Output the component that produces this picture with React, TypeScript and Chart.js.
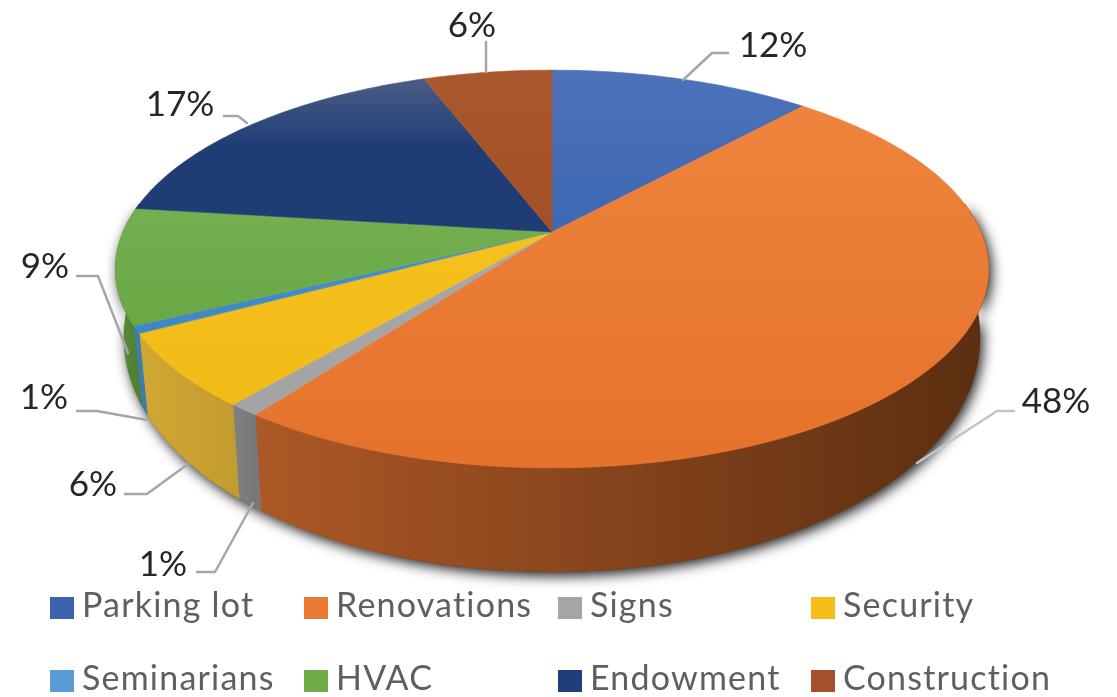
import React, { useEffect, useRef } from "react";
import { Chart, registerables } from "chart.js";

Chart.register(...registerables);

const categories = ["Parking lot", "Renovations", "Signs", "Security", "Seminarians", "HVAC", "Endowment", "Construction"];
const shares = [11.6, 48.4, 1, 6, 0.6, 9.4, 17.3, 5.7];
const topStart = ["#4d72b9", "#ee843d", "#a8a8a8", "#f6c11c", "#4a90cc", "#74af50", "#4a5d85", "#a9582e"];
const topEnd = ["#3c68b2", "#e5722b", "#a3a3a3", "#f1bb18", "#3f86c6", "#69a845", "#1f3c75", "#a44f25"];
const sideStart = ["#2f5597", "#ad5826", "#808080", "#d2a833", "#3a7db4", "#5b8f3a", "#1f3864", "#843c0c"];
const sideEnd = ["#2f5597", "#5b2e10", "#787878", "#c39c2f", "#3a7db4", "#4f8036", "#1f3864", "#843c0c"];
const legendSwatch = ["#3b62ab", "#ea7a33", "#a5a5a5", "#f3bd1c", "#5b9bd5", "#70ad47", "#1f3e7c", "#a5502a"];

// Layout of labels, leaders and legend, kept apart from the data.
const labelCentre = [[773, 46], [1056, 402], [163, 565], [93, 485], [44, 398], [45, 267], [180, 105], [472, 26]];
const leaders = [
  [[683, 80], [712, 53], [728, 53]],
  [[917, 463], [997, 411], [1014, 411]],
  [[253, 503], [215, 572], [197, 572]],
  [[188, 464], [147, 494], [125, 494]],
  [[147, 420], [97, 411], [77, 411]],
  [[128, 353], [98, 276], [77, 276]],
  [[247, 123], [238, 116], [224, 116]],
  [[486, 72], [486, 42]],
];
const legendX = [50, 304, 558, 811];
const legendY = [597, 670];

const CX = 552, CY = 232, A = 429, B = 192, K = 0.186;
const project = (t: number) => {
  const u = Math.cos(t), v = Math.sin(t), w = 1 - K * v;
  return { x: CX + (A * u) / w, y: CY + (B * v) / w, v };
};
const lower = (t: number) => {
  const p = project(t);
  return { x: CX + (p.x - CX) * 0.98, y: p.y + 60 + 44 * p.v };
};
const samples = (a: number, b: number) => {
  const n = Math.max(2, Math.ceil((b - a) / 0.02));
  return Array.from({ length: n + 1 }, (_, i) => a + ((b - a) * i) / n);
};

const pie3d = {
  id: "pie3d",
  beforeDatasetsDraw(chart: any) {
    const ctx: CanvasRenderingContext2D = chart.ctx;
    const arcs = chart.getDatasetMeta(0).data as any[];
    const norm = arcs.map((a) => [a.startAngle, a.endAngle]);

    // Outer side: silhouette with soft shadow, then slice by slice.
    const sideRange = (a: number, b: number) => {
      const lo = Math.max(a, -0.15), hi = Math.min(b, Math.PI + 0.15);
      const ranges: number[][] = [];
      if (hi > lo) ranges.push([lo, hi]);
      return ranges;
    };
    ctx.save();
    ctx.shadowColor = "rgba(0,0,0,0.9)";
    ctx.shadowBlur = 13;
    ctx.shadowOffsetX = 3;
    ctx.shadowOffsetY = 4;
    ctx.fillStyle = "#5b2e10";
    ctx.beginPath();
    samples(-0.15, Math.PI + 0.15).forEach((t, i) => {
      const p = lower(t);
      if (i) ctx.lineTo(p.x, p.y); else ctx.moveTo(p.x, p.y);
    });
    samples(-0.15, Math.PI + 0.15).reverse().forEach((t) => {
      const p = project(t);
      ctx.lineTo(p.x, p.y);
    });
    ctx.closePath();
    ctx.fill();
    ctx.restore();

    norm.forEach(([a, b], i) => {
      sideRange(a, b).forEach(([lo, hi]) => {
        const ts = samples(lo, hi);
        const xs = ts.map((t) => project(t).x);
        const g = ctx.createLinearGradient(Math.min(...xs), 0, Math.max(...xs), 0);
        g.addColorStop(0, sideStart[i]);
        g.addColorStop(1, sideEnd[i]);
        ctx.fillStyle = g;
        ctx.strokeStyle = g;
        ctx.lineWidth = 0.7;
        ctx.beginPath();
        ts.forEach((t, j) => {
          const p = lower(t);
          if (j) ctx.lineTo(p.x, p.y); else ctx.moveTo(p.x, p.y);
        });
        [...ts].reverse().forEach((t) => {
          const p = project(t);
          ctx.lineTo(p.x, p.y);
        });
        ctx.closePath();
        ctx.fill();
        ctx.stroke();
      });
    });

    // Top face.
    arcs.forEach((arc, i) => {
      const ts = samples(arc.startAngle, arc.endAngle);
      const ys = ts.map((t) => project(t).y).concat(CY);
      const g = ctx.createLinearGradient(0, Math.min(...ys), 0, Math.max(...ys));
      g.addColorStop(0, topStart[i]);
      g.addColorStop(i === 6 ? 0.45 : 1, topEnd[i]);
      if (i === 6) g.addColorStop(1, topEnd[i]);
      ctx.fillStyle = g;
      ctx.strokeStyle = g;
      ctx.lineWidth = 0.6;
      ctx.beginPath();
      ctx.moveTo(CX, CY);
      ts.forEach((t) => {
        const p = project(t);
        ctx.lineTo(p.x, p.y);
      });
      ctx.closePath();
      ctx.fill();
      ctx.stroke();
    });

    // Leader lines and percentage labels.
    ctx.lineCap = "round";
    ctx.lineJoin = "round";
    leaders.forEach((pts, i) => {
      ctx.strokeStyle = i === 1 ? "#c4c4c4" : "#a6a6a6";
      ctx.lineWidth = 2.5;
      ctx.beginPath();
      pts.forEach(([x, y], j) => (j ? ctx.lineTo(x, y) : ctx.moveTo(x, y)));
      ctx.stroke();
    });
    ctx.fillStyle = "#262626";
    ctx.font = '35px Lato';
    ctx.textAlign = "center";
    ctx.textBaseline = "middle";
    shares.forEach((v, i) => ctx.fillText(`${Math.round(v)}%`, labelCentre[i][0], labelCentre[i][1]));

    // Legend.
    ctx.textAlign = "left";
    ctx.textBaseline = "alphabetic";
    ctx.font = '34px Lato';
    (ctx as any).letterSpacing = "1.2px";
    categories.forEach((name, i) => {
      const x = legendX[i % 4], y = legendY[Math.floor(i / 4)];
      ctx.fillStyle = legendSwatch[i];
      ctx.fillRect(x, y, 24, 22);
      ctx.fillStyle = "#5f5f5f";
      ctx.fillText(name, x + 32, y + 20);
    });
    (ctx as any).letterSpacing = "0px";
    return false;
  },
};

export default function App() {
  const ref = useRef<HTMLCanvasElement>(null);
  useEffect(() => {
    const chart = new Chart(ref.current!, {
      type: "pie",
      data: { labels: categories, datasets: [{ data: shares, backgroundColor: legendSwatch, borderWidth: 0 }] },
      options: {
        animation: false,
        responsive: false,
        plugins: { legend: { display: false }, tooltip: { enabled: false } },
      },
      plugins: [pie3d as any],
    });
    return () => chart.destroy();
  }, []);
  return (
    <canvas
      ref={ref}
      width={1117}
      height={697}
      style={{ position: "fixed", left: 0, top: 0, width: 1117, height: 697, filter: "blur(0.7px)", background: "#fff" }}
    />
  );
}
